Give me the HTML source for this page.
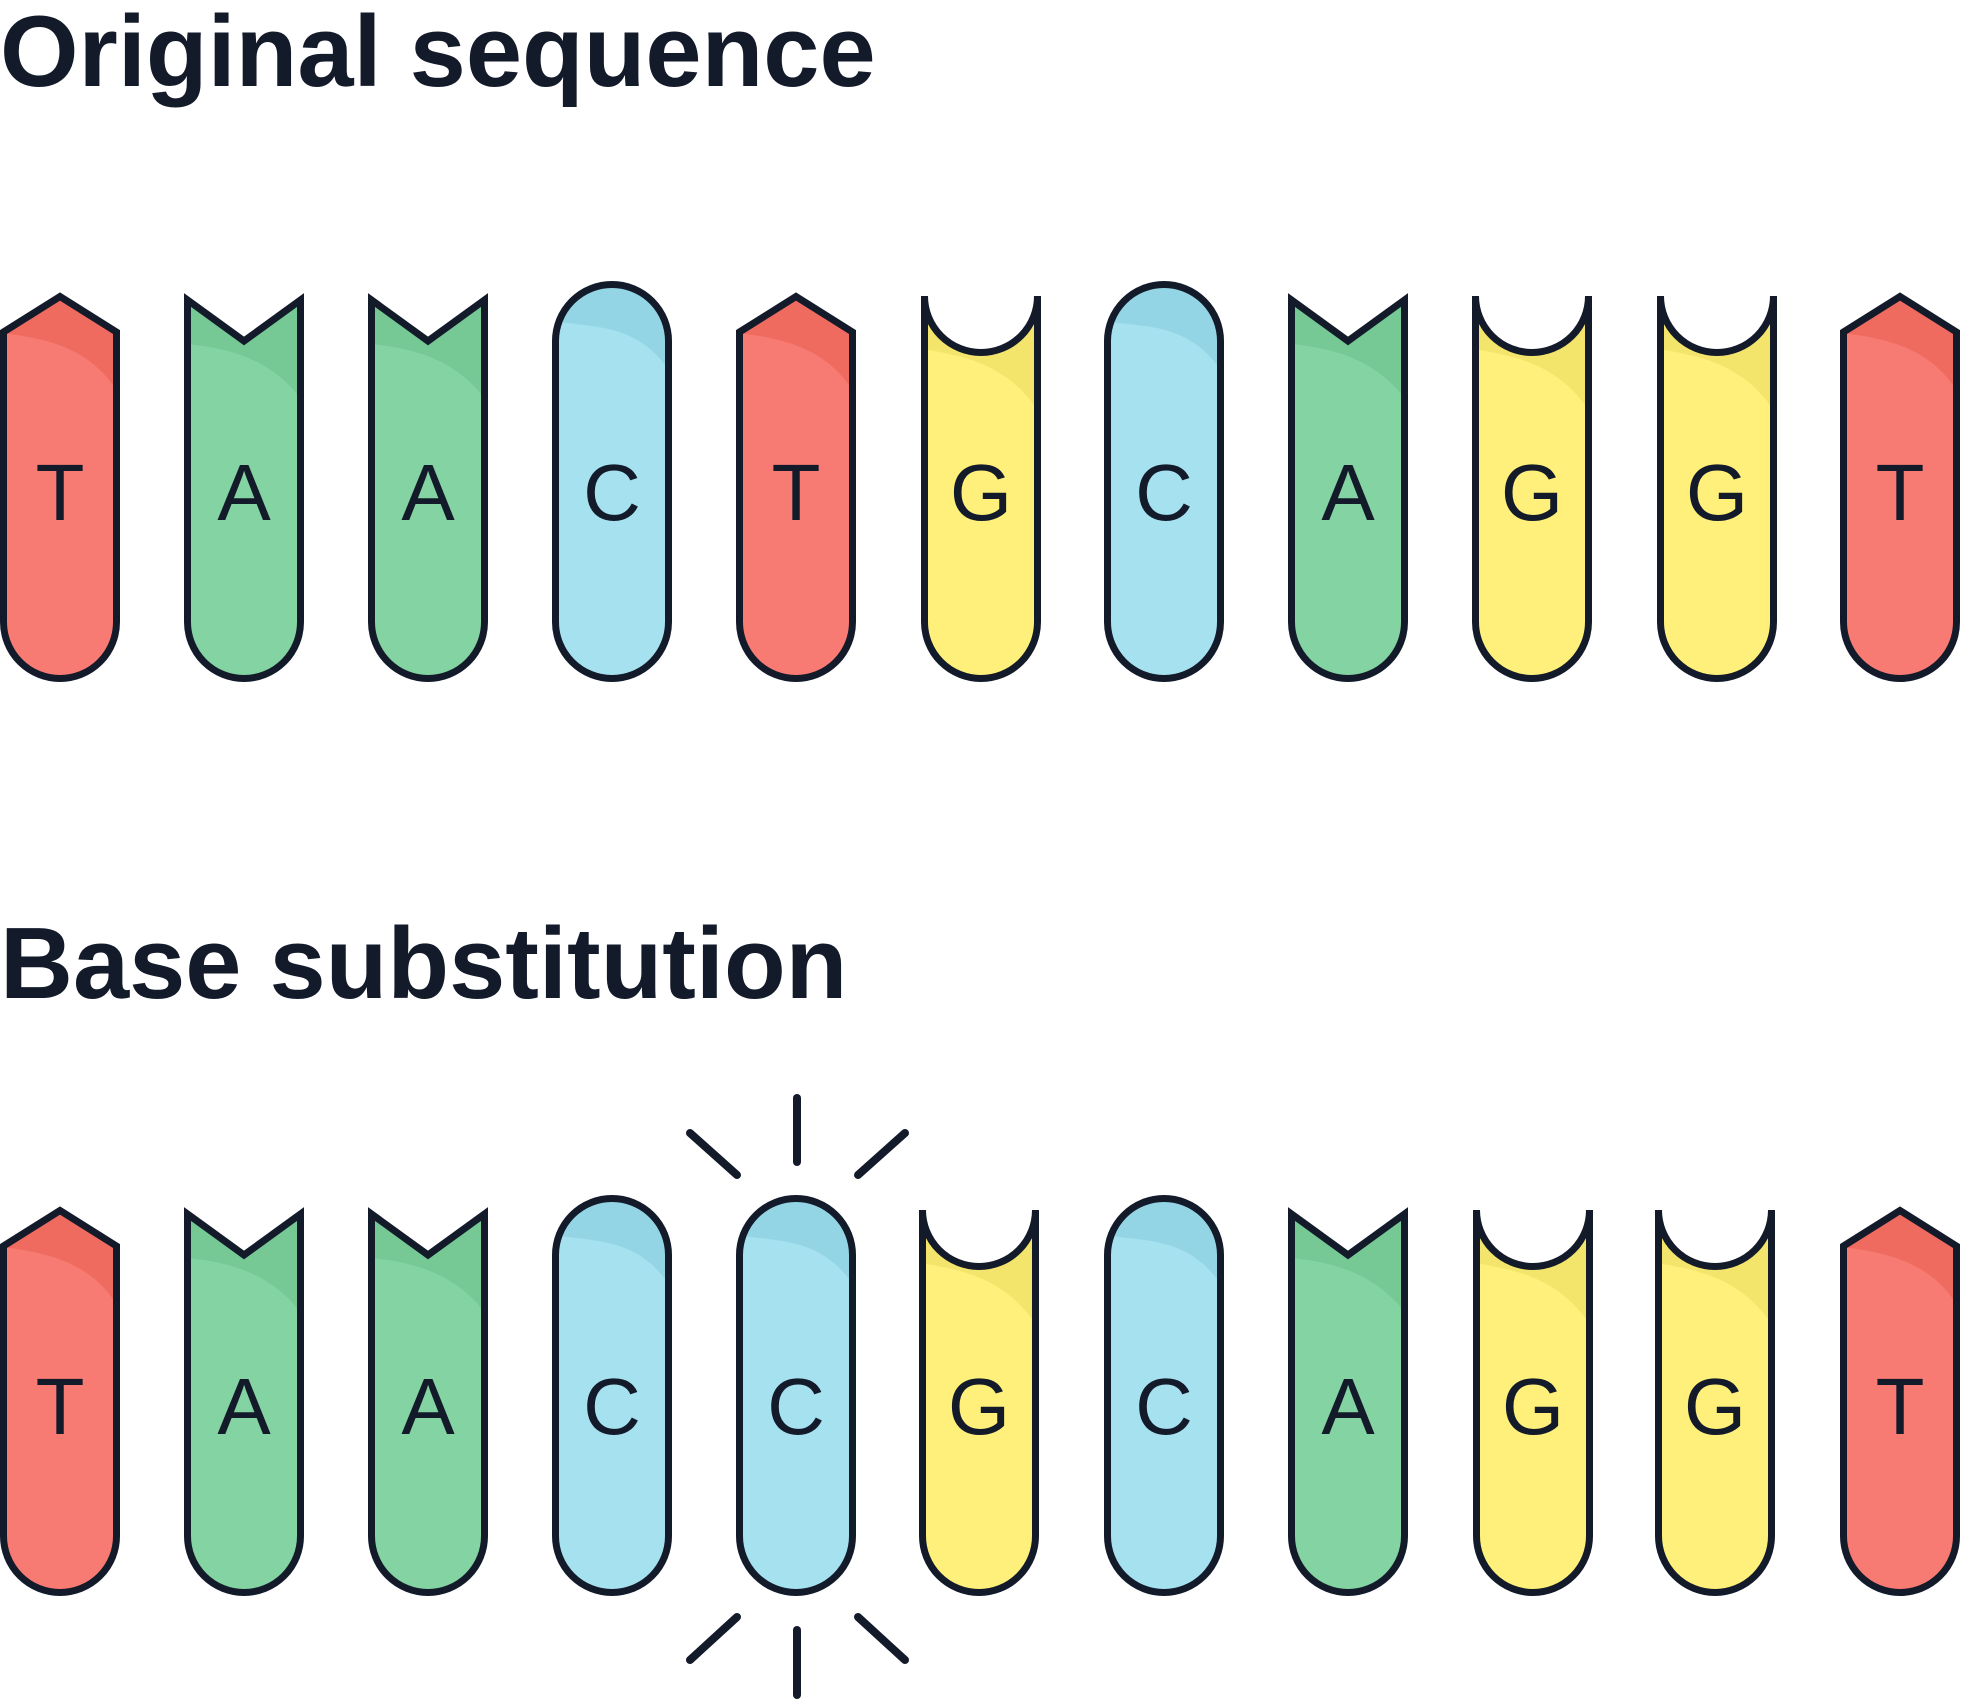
<!DOCTYPE html>
<html>
<head>
<meta charset="utf-8">
<style>
html,body{margin:0;padding:0;background:#fff;}
svg{display:block;}
</style>
</head>
<body>
<svg width="1961" height="1701" viewBox="0 0 1961 1701" xmlns="http://www.w3.org/2000/svg">
<defs>
  <path id="shT" d="M -56.5 332 L 0 296.5 L 56.5 332 L 56.5 622 A 56.5 56.5 0 0 1 -56.5 622 Z"/>
  <path id="shA" d="M -56.5 300 L 0 341 L 56.5 300 L 56.5 622 A 56.5 56.5 0 0 1 -56.5 622 Z"/>
  <path id="shG" d="M -56.5 296 A 56.5 56.5 0 0 0 56.5 296 L 56.5 622 A 56.5 56.5 0 0 1 -56.5 622 Z"/>
  <path id="shC" d="M -56.5 341 A 56.5 56.5 0 0 1 56.5 341 L 56.5 622 A 56.5 56.5 0 0 1 -56.5 622 Z"/>
  <clipPath id="cT"><use href="#shT"/></clipPath>
  <clipPath id="cA"><use href="#shA"/></clipPath>
  <clipPath id="cG"><use href="#shG"/></clipPath>
  <clipPath id="cC"><use href="#shC"/></clipPath>
  <path id="hT" d="M -70 200 L -70 333 L -57 333 C -20 338 30 345 58 393 L 70 393 L 70 200 Z"/>
  <path id="hA" d="M -70 200 L -70 344 L -57 344 C -20 348 25 356 58 400 L 70 400 L 70 200 Z"/>
  <path id="hG" d="M -70 200 L -70 349 L -57 349 C -20 356 25 362 58 412 L 70 412 L 70 200 Z"/>
  <path id="hC" d="M -70 200 L -70 321 L -57 321 C -20 328 25 322 58 372 L 70 372 L 70 200 Z"/>

  <g id="bT">
    <use href="#shT" fill="#F77B73"/>
    <use href="#hT" fill="#F06B5F" clip-path="url(#cT)"/>
    <use href="#shT" fill="none" stroke="#131A2A" stroke-width="7"/>
    <text x="0" y="520" text-anchor="middle" font-family="Liberation Sans, sans-serif" font-size="80" fill="#131A2A">T</text>
  </g>
  <g id="bA">
    <use href="#shA" fill="#84D3A3"/>
    <use href="#hA" fill="#76C895" clip-path="url(#cA)"/>
    <use href="#shA" fill="none" stroke="#131A2A" stroke-width="7"/>
    <text x="0" y="520" text-anchor="middle" font-family="Liberation Sans, sans-serif" font-size="80" fill="#131A2A">A</text>
  </g>
  <g id="bG">
    <use href="#shG" fill="#FEF07A"/>
    <use href="#hG" fill="#F3E46C" clip-path="url(#cG)"/>
    <use href="#shG" fill="none" stroke="#131A2A" stroke-width="7"/>
    <text x="0" y="520" text-anchor="middle" font-family="Liberation Sans, sans-serif" font-size="80" fill="#131A2A">G</text>
  </g>
  <g id="bC">
    <use href="#shC" fill="#A6E1EF"/>
    <use href="#hC" fill="#93D5E5" clip-path="url(#cC)"/>
    <use href="#shC" fill="none" stroke="#131A2A" stroke-width="7"/>
    <text x="0" y="520" text-anchor="middle" font-family="Liberation Sans, sans-serif" font-size="80" fill="#131A2A">C</text>
  </g>
</defs>

<rect x="0" y="0" width="1961" height="1701" fill="#ffffff"/>

<text x="0" y="86" font-family="Liberation Sans, sans-serif" font-weight="bold" font-size="101" fill="#131A2A">Original sequence</text>
<text x="0" y="998" font-family="Liberation Sans, sans-serif" font-weight="bold" font-size="101" fill="#131A2A">Base substitution</text>

<!-- Row 1: T A A C T G C A G G T -->
<use href="#bT" x="60" y="0"/>
<use href="#bA" x="244" y="0"/>
<use href="#bA" x="428" y="0"/>
<use href="#bC" x="612" y="0"/>
<use href="#bT" x="796" y="0"/>
<use href="#bG" x="981" y="0"/>
<use href="#bC" x="1164" y="0"/>
<use href="#bA" x="1348" y="0"/>
<use href="#bG" x="1532" y="0"/>
<use href="#bG" x="1717" y="0"/>
<use href="#bT" x="1900" y="0"/>

<!-- Row 2: T A A C C G C A G G T -->
<use href="#bT" x="60" y="914"/>
<use href="#bA" x="244" y="914"/>
<use href="#bA" x="428" y="914"/>
<use href="#bC" x="612" y="914"/>
<use href="#bC" x="796" y="914"/>
<use href="#bG" x="979" y="914"/>
<use href="#bC" x="1164" y="914"/>
<use href="#bA" x="1348" y="914"/>
<use href="#bG" x="1533" y="914"/>
<use href="#bG" x="1715" y="914"/>
<use href="#bT" x="1900" y="914"/>

<!-- Starburst lines -->
<g stroke="#131A2A" stroke-width="8" stroke-linecap="round" fill="none">
  <line x1="797" y1="1098" x2="797" y2="1162"/>
  <line x1="690" y1="1133" x2="737" y2="1175"/>
  <line x1="905" y1="1133" x2="858" y2="1175"/>
  <line x1="797" y1="1630" x2="797" y2="1695"/>
  <line x1="737" y1="1617" x2="690" y2="1660"/>
  <line x1="858" y1="1617" x2="905" y2="1660"/>
</g>
</svg>
</body>
</html>
